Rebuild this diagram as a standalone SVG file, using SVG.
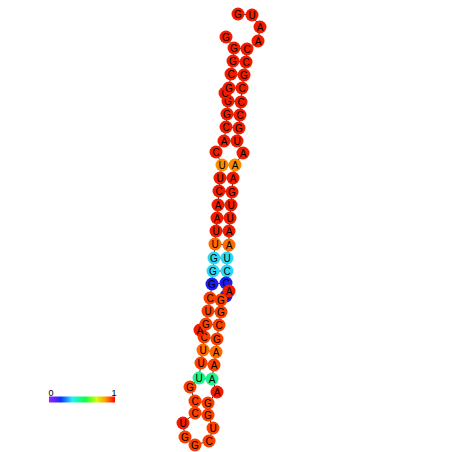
<svg xmlns="http://www.w3.org/2000/svg" width="452" height="452" viewBox="0 0 452 452">
<defs>
<style>
.n circle{stroke:none}
.n text{font-family:"Liberation Sans",Arial,sans-serif;font-size:10px;text-anchor:middle;fill:#000}
.r{fill:#f01c00}.or{fill:#fa4000}.o{fill:#ff8a00}.oo{fill:#ff6a00}.c{fill:#2ad8f5}.b{fill:#1c1cf0}.g{fill:#22f08a}
#links line{stroke:#333;stroke-width:1}
#links polyline{fill:none;stroke:#333;stroke-width:1}
</style>
<linearGradient id="bar" x1="0" x2="1" y1="0" y2="0">
<stop offset="0" stop-color="#a020ff"/>
<stop offset="0.18" stop-color="#1030ff"/>
<stop offset="0.35" stop-color="#20f0ff"/>
<stop offset="0.55" stop-color="#10ff40"/>
<stop offset="0.72" stop-color="#d0ff10"/>
<stop offset="0.85" stop-color="#ffa000"/>
<stop offset="1" stop-color="#ff0000"/>
</linearGradient>
</defs>
<rect width="452" height="452" fill="#fff"/>
<g id="links">
<polyline points="226,296 221,300 221,312 219,325 217,339 216,352 214,365 212,379 217,392 208,403 208,415 213,428 209,441 195,445 185,437 183,423 195,413 195,401 190,387 199,378 201,363 203,350 204,337 200,330 206,324 208,311 210,298 212,284 213,271 214,258 215,244 216,231 217,218 218,205 219,191 220,178 222,165 216,152 224,141 226,127 227,114 228,101 225,93 229,88 231,74 233,61 234,48 226,37"/>
<polyline points="238,14 252,15 260,27 258,41 247,49 246,62 244,75 242,88 241,102 240,115 239,128 237,141 243,153 235,165 233,178 232,192 231,205 230,218 229,231 229,245 227,258 227,271 226,283 229,291"/>
<line x1="210" y1="298" x2="221" y2="300"/>
<line x1="208" y1="311" x2="221" y2="312"/>
<line x1="206" y1="324" x2="219" y2="325"/>
<line x1="204" y1="337" x2="217" y2="339"/>
<line x1="203" y1="350" x2="216" y2="352"/>
<line x1="201" y1="363" x2="214" y2="365"/>
<line x1="199" y1="378" x2="212" y2="379"/>
<line x1="195" y1="401" x2="208" y2="403"/>
<line x1="195" y1="413" x2="208" y2="415"/>
<line x1="212" y1="284" x2="226" y2="283"/>
<line x1="213" y1="271" x2="227" y2="271"/>
<line x1="214" y1="258" x2="227" y2="258"/>
<line x1="215" y1="244" x2="229" y2="245"/>
<line x1="216" y1="231" x2="229" y2="231"/>
<line x1="217" y1="218" x2="230" y2="218"/>
<line x1="218" y1="205" x2="231" y2="205"/>
<line x1="219" y1="191" x2="232" y2="192"/>
<line x1="220" y1="178" x2="233" y2="178"/>
<line x1="222" y1="165" x2="235" y2="165"/>
<line x1="224" y1="141" x2="237" y2="141"/>
<line x1="226" y1="127" x2="239" y2="128"/>
<line x1="227" y1="114" x2="240" y2="115"/>
<line x1="228" y1="101" x2="241" y2="102"/>
<line x1="229" y1="88" x2="242" y2="88"/>
<line x1="231" y1="74" x2="244" y2="75"/>
<line x1="233" y1="61" x2="246" y2="62"/>
<line x1="234" y1="48" x2="247" y2="49"/>
</g>
<g id="nodes">
<g id="n1" class="n"><circle class="b" cx="226" cy="296" r="6.5"/><text x="226" y="299.5">G</text></g>
<g id="n2" class="n"><circle class="or" cx="221" cy="300" r="6.5"/><text x="221" y="303.5">G</text></g>
<g id="n3" class="n"><circle class="or" cx="221" cy="312" r="6.5"/><text x="221" y="315.5">G</text></g>
<g id="n4" class="n"><circle class="or" cx="219" cy="325" r="6.5"/><text x="219" y="328.5">C</text></g>
<g id="n5" class="n"><circle class="or" cx="217" cy="339" r="6.5"/><text x="217" y="342.5">G</text></g>
<g id="n6" class="n"><circle class="oo" cx="216" cy="352" r="6.5"/><text x="216" y="355.5">A</text></g>
<g id="n7" class="n"><circle class="or" cx="214" cy="365" r="6.5"/><text x="214" y="368.5">A</text></g>
<g id="n8" class="n"><circle class="g" cx="212" cy="379" r="6.5"/><text x="212" y="382.5">A</text></g>
<g id="n9" class="n"><circle class="r" cx="217" cy="392" r="6.5"/><text x="217" y="395.5">A</text></g>
<g id="n10" class="n"><circle class="or" cx="208" cy="403" r="6.5"/><text x="208" y="406.5">G</text></g>
<g id="n11" class="n"><circle class="or" cx="208" cy="415" r="6.5"/><text x="208" y="418.5">G</text></g>
<g id="n12" class="n"><circle class="or" cx="213" cy="428" r="6.5"/><text x="213" y="431.5">U</text></g>
<g id="n13" class="n"><circle class="or" cx="209" cy="441" r="6.5"/><text x="209" y="444.5">C</text></g>
<g id="n14" class="n"><circle class="or" cx="195" cy="445" r="6.5"/><text x="195" y="448.5">G</text></g>
<g id="n15" class="n"><circle class="or" cx="185" cy="437" r="6.5"/><text x="185" y="440.5">G</text></g>
<g id="n16" class="n"><circle class="r" cx="183" cy="423" r="6.5"/><text x="183" y="426.5">U</text></g>
<g id="n17" class="n"><circle class="or" cx="195" cy="413" r="6.5"/><text x="195" y="416.5">C</text></g>
<g id="n18" class="n"><circle class="or" cx="195" cy="401" r="6.5"/><text x="195" y="404.5">C</text></g>
<g id="n19" class="n"><circle class="or" cx="190" cy="387" r="6.5"/><text x="190" y="390.5">G</text></g>
<g id="n20" class="n"><circle class="g" cx="199" cy="378" r="6.5"/><text x="199" y="381.5">U</text></g>
<g id="n21" class="n"><circle class="or" cx="201" cy="363" r="6.5"/><text x="201" y="366.5">U</text></g>
<g id="n22" class="n"><circle class="oo" cx="203" cy="350" r="6.5"/><text x="203" y="353.5">U</text></g>
<g id="n23" class="n"><circle class="or" cx="204" cy="337" r="6.5"/><text x="204" y="340.5">C</text></g>
<g id="n24" class="n"><circle class="r" cx="200" cy="330" r="6.5"/><text x="200" y="333.5">A</text></g>
<g id="n25" class="n"><circle class="or" cx="206" cy="324" r="6.5"/><text x="206" y="327.5">G</text></g>
<g id="n26" class="n"><circle class="or" cx="208" cy="311" r="6.5"/><text x="208" y="314.5">U</text></g>
<g id="n27" class="n"><circle class="or" cx="210" cy="298" r="6.5"/><text x="210" y="301.5">C</text></g>
<g id="n28" class="n"><circle class="b" cx="212" cy="284" r="6.5"/><text x="212" y="287.5">G</text></g>
<g id="n29" class="n"><circle class="c" cx="213" cy="271" r="6.5"/><text x="213" y="274.5">G</text></g>
<g id="n30" class="n"><circle class="c" cx="214" cy="258" r="6.5"/><text x="214" y="261.5">G</text></g>
<g id="n31" class="n"><circle class="oo" cx="215" cy="244" r="6.5"/><text x="215" y="247.5">U</text></g>
<g id="n32" class="n"><circle class="r" cx="216" cy="231" r="6.5"/><text x="216" y="234.5">U</text></g>
<g id="n33" class="n"><circle class="r" cx="217" cy="218" r="6.5"/><text x="217" y="221.5">A</text></g>
<g id="n34" class="n"><circle class="r" cx="218" cy="205" r="6.5"/><text x="218" y="208.5">A</text></g>
<g id="n35" class="n"><circle class="r" cx="219" cy="191" r="6.5"/><text x="219" y="194.5">C</text></g>
<g id="n36" class="n"><circle class="r" cx="220" cy="178" r="6.5"/><text x="220" y="181.5">U</text></g>
<g id="n37" class="n"><circle class="o" cx="222" cy="165" r="6.5"/><text x="222" y="168.5">U</text></g>
<g id="n38" class="n"><circle class="r" cx="216" cy="152" r="6.5"/><text x="216" y="155.5">C</text></g>
<g id="n39" class="n"><circle class="r" cx="224" cy="141" r="6.5"/><text x="224" y="144.5">A</text></g>
<g id="n40" class="n"><circle class="r" cx="226" cy="127" r="6.5"/><text x="226" y="130.5">C</text></g>
<g id="n41" class="n"><circle class="r" cx="227" cy="114" r="6.5"/><text x="227" y="117.5">G</text></g>
<g id="n42" class="n"><circle class="r" cx="228" cy="101" r="6.5"/><text x="228" y="104.5">G</text></g>
<g id="n43" class="n"><circle class="r" cx="225" cy="93" r="6.5"/><text x="225" y="96.5">C</text></g>
<g id="n44" class="n"><circle class="r" cx="229" cy="88" r="6.5"/><text x="229" y="91.5">G</text></g>
<g id="n45" class="n"><circle class="r" cx="231" cy="74" r="6.5"/><text x="231" y="77.5">C</text></g>
<g id="n46" class="n"><circle class="r" cx="233" cy="61" r="6.5"/><text x="233" y="64.5">G</text></g>
<g id="n47" class="n"><circle class="r" cx="234" cy="48" r="6.5"/><text x="234" y="51.5">G</text></g>
<g id="n48" class="n"><circle class="r" cx="226" cy="37" r="6.5"/><text x="226" y="40.5">G</text></g>
<g id="n49" class="n"><circle class="r" cx="238" cy="14" r="6.5"/><text x="238" y="17.5">G</text></g>
<g id="n50" class="n"><circle class="r" cx="252" cy="15" r="6.5"/><text x="252" y="18.5">U</text></g>
<g id="n51" class="n"><circle class="r" cx="260" cy="27" r="6.5"/><text x="260" y="30.5">A</text></g>
<g id="n52" class="n"><circle class="r" cx="258" cy="41" r="6.5"/><text x="258" y="44.5">A</text></g>
<g id="n53" class="n"><circle class="r" cx="247" cy="49" r="6.5"/><text x="247" y="52.5">C</text></g>
<g id="n54" class="n"><circle class="r" cx="246" cy="62" r="6.5"/><text x="246" y="65.5">C</text></g>
<g id="n55" class="n"><circle class="r" cx="244" cy="75" r="6.5"/><text x="244" y="78.5">G</text></g>
<g id="n56" class="n"><circle class="r" cx="242" cy="88" r="6.5"/><text x="242" y="91.5">C</text></g>
<g id="n57" class="n"><circle class="r" cx="241" cy="102" r="6.5"/><text x="241" y="105.5">C</text></g>
<g id="n58" class="n"><circle class="r" cx="240" cy="115" r="6.5"/><text x="240" y="118.5">C</text></g>
<g id="n59" class="n"><circle class="r" cx="239" cy="128" r="6.5"/><text x="239" y="131.5">G</text></g>
<g id="n60" class="n"><circle class="r" cx="237" cy="141" r="6.5"/><text x="237" y="144.5">U</text></g>
<g id="n61" class="n"><circle class="r" cx="243" cy="153" r="6.5"/><text x="243" y="156.5">A</text></g>
<g id="n62" class="n"><circle class="o" cx="235" cy="165" r="6.5"/><text x="235" y="168.5">A</text></g>
<g id="n63" class="n"><circle class="r" cx="233" cy="178" r="6.5"/><text x="233" y="181.5">A</text></g>
<g id="n64" class="n"><circle class="r" cx="232" cy="192" r="6.5"/><text x="232" y="195.5">G</text></g>
<g id="n65" class="n"><circle class="r" cx="231" cy="205" r="6.5"/><text x="231" y="208.5">U</text></g>
<g id="n66" class="n"><circle class="r" cx="230" cy="218" r="6.5"/><text x="230" y="221.5">U</text></g>
<g id="n67" class="n"><circle class="r" cx="229" cy="231" r="6.5"/><text x="229" y="234.5">A</text></g>
<g id="n68" class="n"><circle class="oo" cx="229" cy="245" r="6.5"/><text x="229" y="248.5">A</text></g>
<g id="n69" class="n"><circle class="c" cx="227" cy="258" r="6.5"/><text x="227" y="261.5">U</text></g>
<g id="n70" class="n"><circle class="c" cx="227" cy="271" r="6.5"/><text x="227" y="274.5">C</text></g>
<g id="n71" class="n"><circle class="b" cx="226" cy="283" r="6.5"/><text x="226" y="286.5">C</text></g>
<g id="n72" class="n"><circle class="r" cx="229" cy="291" r="6.5"/><text x="229" y="294.5">A</text></g>
</g>
<g id="legend">
<rect x="49" y="396.5" width="66" height="6" fill="url(#bar)"/>
<text x="51" y="396" font-family="Liberation Sans,Arial,sans-serif" font-size="9" text-anchor="middle">0</text>
<text x="114" y="396" font-family="Liberation Sans,Arial,sans-serif" font-size="9" text-anchor="middle">1</text>
</g>
</svg>
